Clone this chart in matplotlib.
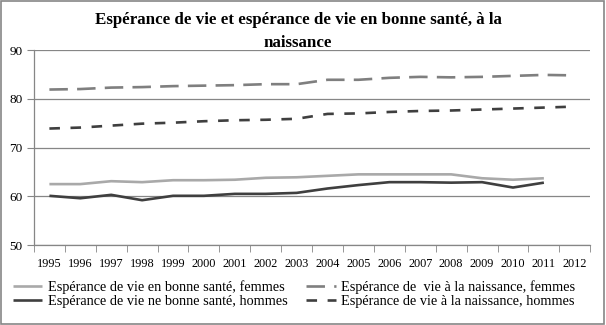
import matplotlib
matplotlib.use("Agg")
import matplotlib.pyplot as plt
from matplotlib.font_manager import FontProperties

years = [str(y) for y in range(1995, 2013)]

# Espérance de vie à la naissance
le_femmes = [81.9, 82.0, 82.3, 82.4, 82.6, 82.7, 82.8, 83.0, 83.0,
             83.9, 83.9, 84.3, 84.5, 84.4, 84.5, 84.7, 84.9, 84.8]
le_hommes = [73.9, 74.1, 74.5, 74.9, 75.1, 75.4, 75.6, 75.7, 75.9,
             76.9, 77.0, 77.3, 77.5, 77.6, 77.8, 78.0, 78.2, 78.4]
# Espérance de vie en bonne santé (jusqu'en 2011)
bs_femmes = [62.5, 62.5, 63.1, 62.9, 63.3, 63.3, 63.4, 63.8, 63.9,
             64.2, 64.5, 64.5, 64.5, 64.5, 63.7, 63.4, 63.7]
bs_hommes = [60.1, 59.6, 60.3, 59.2, 60.1, 60.1, 60.5, 60.5, 60.7,
             61.6, 62.3, 62.9, 62.9, 62.8, 62.9, 61.8, 62.8]

labels = ["Espérance de vie en bonne santé, femmes",
          "Espérance de  vie à la naissance, femmes",
          "Espérance de vie ne bonne santé, hommes",
          "Espérance de vie à la naissance, hommes"]

serif = ["Liberation Serif", "DejaVu Serif"]
plt.rcParams["font.family"] = serif

fig = plt.figure(figsize=(6.06, 3.25), dpi=100)
fig.patch.set_facecolor("white")
ax = fig.add_axes([0.056, 0.246, 0.918, 0.6])

x = list(range(len(years)))
c_light = "#a9a9a9"
c_mid = "#7f7f7f"
c_dark = "#3f3f3f"
lw = 1.9

l1, = ax.plot(x[:len(bs_femmes)], bs_femmes, color=c_light, lw=lw, solid_capstyle="butt")
l2, = ax.plot(x, le_femmes, color=c_mid, lw=lw, dashes=(7, 3.5), dash_capstyle="butt")
l3, = ax.plot(x[:len(bs_hommes)], bs_hommes, color=c_dark, lw=lw, solid_capstyle="butt")
l4, = ax.plot(x, le_hommes, color=c_dark, lw=lw, dashes=(4, 4), dash_capstyle="butt")

ax.set_xlim(-0.5, len(years) - 0.5)
ax.set_ylim(50, 90)
ax.set_yticks([50, 60, 70, 80, 90])
ax.set_xticks(x)
ax.set_xticklabels(years)
ax.set_xticks([i - 0.5 for i in range(len(years) + 1)], minor=True)
ax.tick_params(axis="x", which="major", length=0, pad=9, labelsize=8.8)
ax.tick_params(axis="x", which="minor", length=5, color="#868686", direction="out")
ax.tick_params(axis="y", length=5, color="#868686", pad=3, labelsize=9.5)
ax.yaxis.grid(True, color="#868686", lw=0.9)
ax.set_axisbelow(True)
for s in ("top", "right"):
    ax.spines[s].set_visible(False)
for s in ("left", "bottom"):
    ax.spines[s].set_color("#868686")
    ax.spines[s].set_linewidth(0.9)

fig.text(0.492, 0.938, "Espérance de vie et espérance de vie en bonne santé, à la",
         ha="center", va="center", fontsize=12.2, fontweight="bold")
fig.text(0.492, 0.868, "naissance", ha="center", va="center",
         fontsize=12.2, fontweight="bold")

# legend filled column by column: left column solid lines, right column dashed
leg_font = FontProperties(family=serif, size=10.3)
leg = fig.legend([l1, l3, l2, l4], [labels[0], labels[2], labels[1], labels[3]],
                 ncol=2, loc="lower left", prop=leg_font,
                 bbox_to_anchor=(0.005, 0.02), frameon=False,
                 handlelength=2.05, handletextpad=0.4, columnspacing=1.3,
                 labelspacing=0.12, borderpad=0.2)

border = plt.Rectangle((0.002, 0.003), 0.995, 0.994, transform=fig.transFigure,
                       fill=False, edgecolor="#868686", lw=1.2)
fig.patches.append(border)

fig.savefig("out.png", dpi=100)
